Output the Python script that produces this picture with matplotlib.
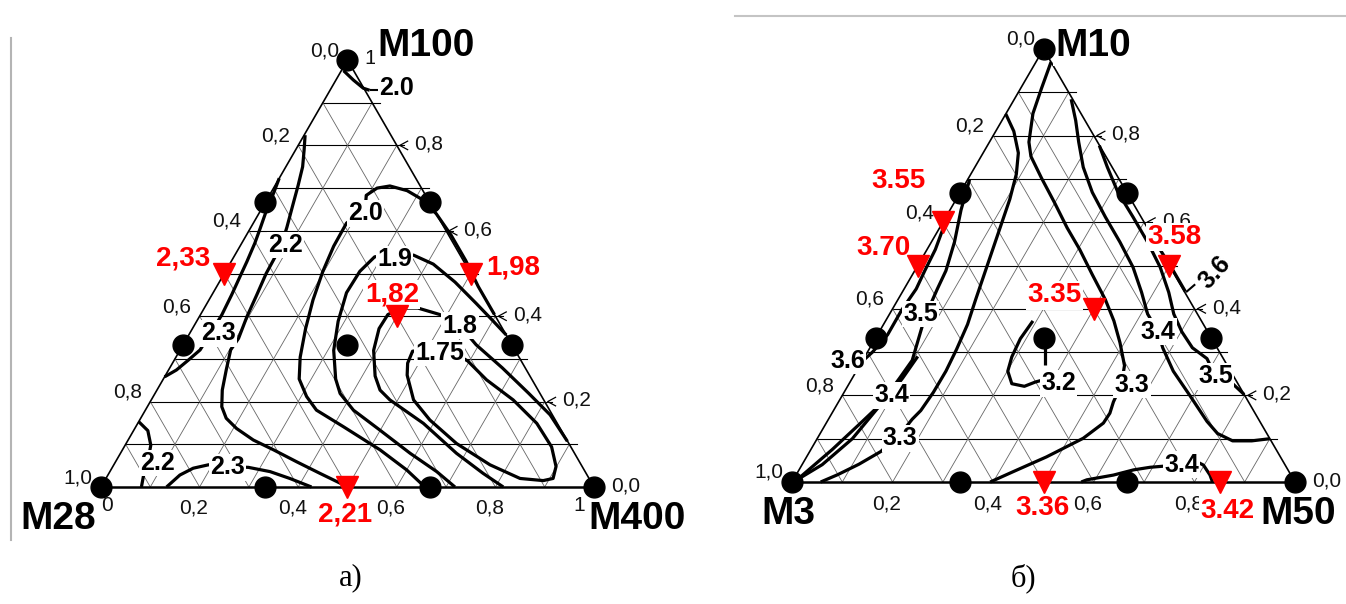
import matplotlib
matplotlib.use("Agg")
import matplotlib.pyplot as plt
from matplotlib.lines import Line2D

FW, FH = 1346, 604

# ---------------- data ----------------
# design points as ternary shares (bottom-axis share, top-vertex share)
design_pts = [(0, 0), (1, 0), (0, 1), (1/3, 0), (2/3, 0), (0, 1/3), (0, 2/3),
              (2/3, 1/3), (1/3, 2/3), (1/3, 1/3)]

# check points (red triangles) and their measured values
check_a_pts = [(0.0, 0.5), (0.5, 0.5), (0.4, 0.4), (0.5, 0.0)]
check_a_vals = ["2,33", "1,98", "1,82", "2,21"]
check_b_pts = [(0.0, 0.6), (0.0, 0.5), (0.5, 0.5), (0.4, 0.4), (0.5, 0.0), (0.85, 0.0)]
check_b_vals = ["3.55", "3.70", "3.58", "3.35", "3.36", "3.42"]

vertex_a = ["M100", "M28", "M400"]
vertex_b = ["M10", "M3", "M50"]

ticks = [0.0, 0.2, 0.4, 0.6, 0.8, 1.0]

# digitised isolines, points in the unit triangle frame (x along base, y = top share)
iso_a = {
    "2.0 top": [(0.492, 0.975), (0.512, 0.953), (0.532, 0.934), (0.545, 0.929)],
    "2.2": [(0.414, 0.824), (0.412, 0.789), (0.409, 0.750), (0.400, 0.707), (0.389, 0.660),
            (0.377, 0.608), (0.366, 0.567), (0.350, 0.532), (0.335, 0.500), (0.316, 0.450),
            (0.296, 0.399), (0.279, 0.348), (0.263, 0.321), (0.254, 0.274), (0.246, 0.227),
            (0.245, 0.188), (0.254, 0.161), (0.275, 0.137), (0.309, 0.110), (0.350, 0.087),
            (0.397, 0.059), (0.444, 0.032), (0.485, 0.009), (0.500, 0.0)],
    "2.3": [(0.3615, 0.723), (0.350, 0.688), (0.336, 0.649), (0.323, 0.606), (0.312, 0.571),
            (0.296, 0.528), (0.282, 0.493), (0.265, 0.450), (0.245, 0.403), (0.222, 0.360),
            (0.201, 0.321), (0.177, 0.297), (0.153, 0.274), (0.129, 0.258)],
    "2.2 low": [(0.0765, 0.153), (0.095, 0.132), (0.101, 0.098), (0.095, 0.060),
                (0.086, 0.025), (0.082, 0.0)],
    "2.3 low": [(0.133, 0.0), (0.160, 0.028), (0.187, 0.044), (0.218, 0.052), (0.255, 0.048),
                (0.299, 0.046), (0.343, 0.036), (0.383, 0.020), (0.427, 0.0)],
    "2.0": [(0.657, 0.0), (0.620, 0.040), (0.566, 0.087), (0.492, 0.141), (0.437, 0.180),
            (0.417, 0.212), (0.402, 0.253), (0.404, 0.304), (0.415, 0.371), (0.430, 0.438),
            (0.450, 0.505), (0.472, 0.564), (0.498, 0.618), (0.536, 0.650), (0.538, 0.683),
            (0.560, 0.700), (0.586, 0.705), (0.621, 0.694), (0.652, 0.673), (0.680, 0.640),
            (0.710, 0.590), (0.740, 0.530), (0.765, 0.470), (0.785, 0.430), (0.798, 0.404)],
    "1.9": [(0.718, 0.0), (0.681, 0.036), (0.627, 0.079), (0.566, 0.133), (0.512, 0.180),
            (0.485, 0.219), (0.476, 0.253), (0.472, 0.320), (0.481, 0.388), (0.498, 0.455),
            (0.525, 0.505), (0.555, 0.539), (0.595, 0.545), (0.634, 0.543), (0.674, 0.522),
            (0.718, 0.480), (0.761, 0.430), (0.796, 0.388), (0.822, 0.356)],
    "1.8": [(0.816, 0.0), (0.775, 0.032), (0.721, 0.079), (0.654, 0.149), (0.586, 0.204),
            (0.566, 0.227), (0.556, 0.260), (0.553, 0.320), (0.564, 0.371), (0.582, 0.404),
            (0.612, 0.419), (0.643, 0.419), (0.687, 0.404), (0.728, 0.378), (0.761, 0.333),
            (0.814, 0.279), (0.867, 0.220), (0.911, 0.169), (0.946, 0.107)],
    "1.75": [(0.665, 0.322), (0.632, 0.318), (0.622, 0.290), (0.621, 0.262), (0.634, 0.204),
             (0.667, 0.157), (0.721, 0.102), (0.789, 0.052), (0.850, 0.020), (0.897, 0.015),
             (0.917, 0.020), (0.923, 0.048), (0.914, 0.094), (0.884, 0.149), (0.836, 0.204),
             (0.782, 0.251), (0.744, 0.295), (0.710, 0.318), (0.665, 0.322)],
}
iso_a_labels = [("2.0", 0.600, 0.934), ("2.2", 0.375, 0.567), ("2.3", 0.238, 0.360),
                ("2.2", 0.114, 0.056), ("2.3", 0.256, 0.046), ("2.0", 0.536, 0.641),
                ("1.9", 0.595, 0.533), ("1.8", 0.728, 0.378), ("1.75", 0.687, 0.314)]

iso_b = {
    "3.3 right": [(0.515, 0.970), (0.496, 0.909), (0.479, 0.851), (0.471, 0.785), (0.475, 0.752),
                  (0.496, 0.702), (0.522, 0.645), (0.547, 0.587), (0.572, 0.537), (0.597, 0.479),
                  (0.623, 0.421), (0.640, 0.372), (0.652, 0.322), (0.661, 0.269), (0.655, 0.225),
                  (0.639, 0.185), (0.632, 0.159), (0.619, 0.136), (0.579, 0.101), (0.506, 0.058),
                  (0.440, 0.024), (0.394, 0.0)],
    "3.4 right": [(0.555, 0.884), (0.564, 0.835), (0.570, 0.785), (0.579, 0.727), (0.597, 0.669),
                  (0.623, 0.612), (0.652, 0.554), (0.678, 0.496), (0.695, 0.438), (0.707, 0.388),
                  (0.728, 0.347), (0.737, 0.310), (0.758, 0.256), (0.792, 0.198), (0.825, 0.140),
                  (0.846, 0.112), (0.876, 0.095), (0.914, 0.095), (0.950, 0.100)],
    "3.5 right": [(0.611, 0.777), (0.627, 0.727), (0.648, 0.669), (0.678, 0.612), (0.707, 0.554),
                  (0.732, 0.496), (0.749, 0.438), (0.759, 0.388), (0.775, 0.347), (0.796, 0.310),
                  (0.825, 0.285), (0.842, 0.244), (0.876, 0.227), (0.899, 0.202)],
    "3.6 right": [(0.730, 0.540), (0.757, 0.490), (0.782, 0.440)],
    "3.2": [(0.479, 0.372), (0.454, 0.331), (0.437, 0.289), (0.429, 0.256), (0.437, 0.227),
            (0.462, 0.221), (0.484, 0.231), (0.500, 0.236)],
    "3.2 stem": [(0.503, 0.310), (0.503, 0.270)],
    "3.3 left": [(0.425, 0.850), (0.441, 0.810), (0.450, 0.760), (0.446, 0.711), (0.433, 0.653),
                 (0.416, 0.595), (0.399, 0.537), (0.382, 0.479), (0.365, 0.421), (0.349, 0.364),
                 (0.327, 0.306), (0.306, 0.256), (0.281, 0.207), (0.256, 0.165), (0.239, 0.145),
                 (0.215, 0.110), (0.176, 0.070), (0.133, 0.041), (0.091, 0.017), (0.057, 0.0)],
    "3.5 left": [(0.353, 0.698), (0.336, 0.628), (0.323, 0.554), (0.306, 0.488), (0.289, 0.446),
                 (0.264, 0.380), (0.239, 0.281), (0.214, 0.240), (0.170, 0.170), (0.120, 0.100),
                 (0.060, 0.040), (0.010, 0.005)],
    "3.6 left": [(0.305, 0.600), (0.285, 0.537), (0.264, 0.488), (0.247, 0.446), (0.218, 0.397),
                 (0.190, 0.340), (0.160, 0.300), (0.140, 0.279)],
    "3.4 left": [(0.250, 0.290), (0.220, 0.240), (0.190, 0.195), (0.140, 0.140), (0.080, 0.075),
                 (0.010, 0.005)],
    "3.4 low": [(0.575, 0.0), (0.586, 0.005), (0.639, 0.016), (0.679, 0.028), (0.712, 0.034),
                (0.775, 0.040), (0.798, 0.051), (0.818, 0.039), (0.831, 0.016), (0.836, 0.0)],
}
iso_b_labels = [("3.3", 0.676, 0.225), ("3.4", 0.728, 0.347), ("3.5", 0.842, 0.244),
                ("3.2", 0.530, 0.228), ("3.3", 0.215, 0.101), ("3.5", 0.256, 0.388),
                ("3.6", 0.111, 0.279), ("3.4", 0.198, 0.200), ("3.4", 0.775, 0.040)]

# ---------------- layout / style ----------------
panels = [
    dict(box=(101, 594, 487, 60), design=design_pts, chk=check_a_pts, vals=check_a_vals,
         iso=iso_a, iso_lab=iso_a_labels, names=vertex_a,
         name_pos=[(0.659, 1.033), (-0.087, -0.075), (1.087, -0.075)],
         val_off=[(-0.083, 0.035), (0.086, 0.015), (-0.010, 0.050), (-0.004, -0.065)],
         hidden=set(), caption=("а)", 351)),
    dict(box=(792, 1295, 482, 49), design=design_pts, chk=check_b_pts, vals=check_b_vals,
         iso=iso_b, iso_lab=iso_b_labels, names=vertex_b,
         name_pos=[(0.598, 1.007), (-0.008, -0.074), (1.006, -0.074)],
         val_off=[(-0.088, 0.094), (-0.069, 0.040), (0.010, 0.066), (-0.078, 0.031),
                  (-0.002, -0.060), (0.016, -0.066)],
         hidden={("r", 1.0), ("b", 0.0), ("b", 1.0)}, caption=("б)", 1023)),
]

SANS = "Liberation Sans"
TICK_FS, ISO_FS, VAL_FS, NAME_FS = 15, 18, 20, 28
fig = plt.figure(figsize=(FW / 100, FH / 100), dpi=100)
fig.patch.set_facecolor("white")


def tern(b, t):
    return b + t / 2.0, t


def make_axes(xl, xr, yb, yt):
    W, H = xr - xl, yb - yt
    u0, u1, h0, h1 = -0.22, 1.22, -0.14, 1.12
    ax = fig.add_axes([(xl + u0 * W) / FW, (FH - (yb - h0 * H)) / FH,
                       (u1 - u0) * W / FW, (h1 - h0) * H / FH])
    ax.set_xlim(u0, u1)
    ax.set_ylim(h0, h1)
    ax.axis("off")
    ax.patch.set_alpha(0)
    return ax


white = dict(boxstyle="square,pad=0.05", fc="white", ec="none")

for p in panels:
    ax = make_axes(*p["box"])

    # grid
    for k in range(1, 10):
        h = k / 10.0
        ax.plot([h / 2, 1 - h / 2 + 0.015], [h, h], color="black", lw=0.8, zorder=1)
        c = k / 10.0
        ax.plot([c, c + (1 - c) / 2], [0, 1 - c], color="#666666", lw=0.6, zorder=1)
        ax.plot([c, c / 2], [0, c], color="#666666", lw=0.6, zorder=1)
    # frame
    ax.plot([0, 0.5, 1], [0, 1, 0], color="black", lw=1.2, zorder=2)
    ax.plot([0, 1], [0, 0], color="black", lw=1.8, zorder=2)

    # tick marks "<" on the right side
    for v in ticks[1:-1]:
        e = 1 - v / 2
        ax.plot([e + 0.022, e + 0.006, e + 0.022], [v + 0.01, v, v - 0.01],
                color="black", lw=0.9, zorder=2)

    # tick labels
    for v in ticks:
        s = ("%.1f" % v).replace(".", ",")
        h = 1 - v
        ax.text(h / 2 - 0.046, h + 0.022, s, ha="center", va="center",
                fontsize=TICK_FS, family=SANS, color="#111111", zorder=3)
        if ("r", v) not in p["hidden"]:
            rs = "1" if v == 1.0 else s
            ax.text(1 - v / 2 + 0.035, v + 0.003, rs, ha="left", va="center",
                    fontsize=TICK_FS, family=SANS, color="#111111", zorder=3)
        if ("b", v) not in p["hidden"]:
            bs = "0" if v == 0 else ("1" if v == 1.0 else s)
            bx = v + (0.012 if v == 0 else (-0.03 if v == 1.0 else -0.012))
            ax.text(bx, -0.05 + (0.006 if v in (0, 1.0) else 0), bs, ha="center",
                    va="center", fontsize=TICK_FS, family=SANS, color="#111111", zorder=3)

    # isolines
    for name, pts in p["iso"].items():
        xs = [q[0] for q in pts]
        ys = [q[1] for q in pts]
        ax.plot(xs, ys, color="black", lw=2.3, solid_capstyle="butt", zorder=3)
    for s, x, y in p["iso_lab"]:
        ax.text(x, y, s, ha="center", va="center", fontsize=ISO_FS, fontweight="bold",
                family=SANS, zorder=4, bbox=white)

    # design points
    dx, dy = zip(*[tern(b, t) for b, t in p["design"]])
    ax.plot(dx, dy, "o", color="black", ms=15, zorder=6, clip_on=False)

    # check points
    cx, cy = zip(*[tern(b, t) for b, t in p["chk"]])
    ax.plot(cx, cy, "v", color="#ff0000", ms=16, zorder=6, clip_on=False)
    for (x, y), s, (ox, oy) in zip(zip(cx, cy), p["vals"], p["val_off"]):
        ax.text(x + ox, y + oy, s, ha="center", va="center", fontsize=VAL_FS,
                fontweight="bold", color="#ff0000", family=SANS, zorder=5, bbox=white)

    # vertex names
    for s, (x, y) in zip(p["names"], p["name_pos"]):
        ax.text(x, y, s, ha="center", va="center", fontsize=NAME_FS, fontweight="bold",
                family=SANS, zorder=5, bbox=white)

    cap, cxp = p["caption"]
    fig.text(cxp / FW, 1 - 578 / FH, cap, ha="center", va="center", fontsize=22,
             family="Liberation Serif")

# leader to the top "2.0" label and the rotated "3.6" label
axes = fig.axes
axes[0].plot([0.548, 0.570], [0.929, 0.929], color="black", lw=1.5, zorder=3)
axes[1].plot([0.785, 0.800], [0.440, 0.455], color="black", lw=1.5, zorder=3)
axes[1].text(0.840, 0.485, "3.6", rotation=48, ha="center", va="center", fontsize=ISO_FS,
             fontweight="bold", family=SANS, zorder=4, bbox=white)

# scan frame remnants
fig.add_artist(Line2D([11 / FW, 11 / FW], [1 - 38 / FH, 1 - 540 / FH], color="#b4b4b4", lw=1.5))
fig.add_artist(Line2D([735 / FW, 1.0], [1 - 16 / FH, 1 - 16 / FH], color="#c4c4c4", lw=1.5))

fig.savefig("out.png", dpi=100)
